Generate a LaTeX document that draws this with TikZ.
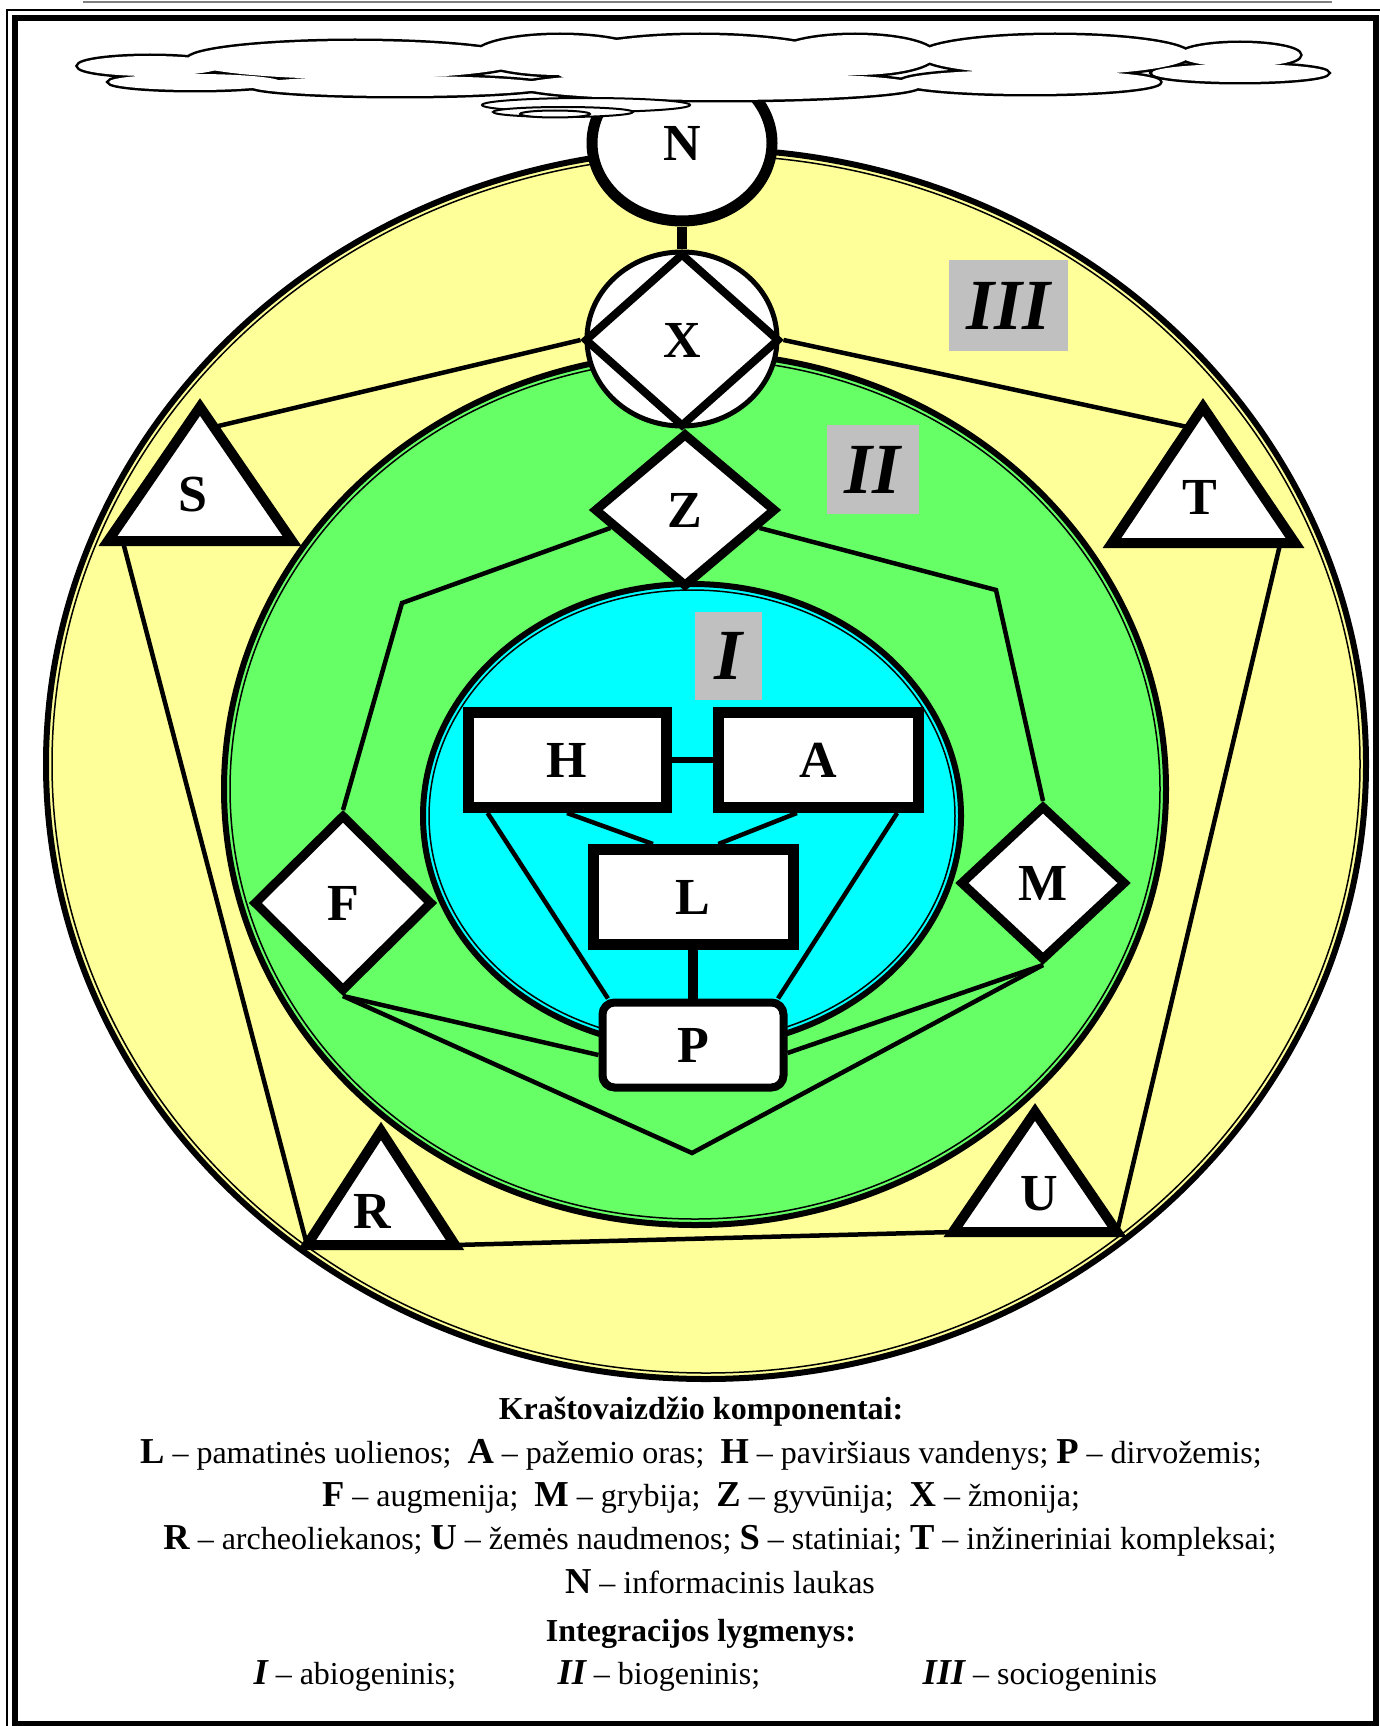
\documentclass[tikz,border=0pt]{standalone}
\usepackage{fontspec}
\setmainfont{Liberation Serif}
\usepackage{tikz}
\usetikzlibrary{calc,shapes.geometric}

\definecolor{socio}{RGB}{255,255,153}
\definecolor{bio}{RGB}{102,255,102}
\definecolor{abio}{RGB}{0,255,255}
\definecolor{levelgray}{RGB}{192,192,192}

\newcommand{\key}[1]{{\fontsize{36.5}{38}\selectfont\bfseries #1}}
\newcommand{\hdr}[1]{{\fontsize{32}{34}\selectfont\bfseries #1}}
\newcommand{\cloudlobes}{150/66/72/10, 195/82/86/8, 355/60/168/19, 560/55/85/20,
  700/65/150/30, 855/55/80/20, 1055/55/135/20, 1240/55/60/12, 1240/73/88/9,
  1030/82/130/12, 720/86/200/14, 400/86/150/10}

\begin{document}
\begin{tikzpicture}[
    x=1pt, y=-1pt,
    line width=4.5pt,
    every node/.style={font=\bfseries\fontsize{52}{56}\selectfont},
    comp/.style={draw, fill=white, line width=11pt, minimum height=95pt, inner sep=0pt},
    rhomb/.style={diamond, draw, fill=white, line width=9pt, inner sep=0pt},
    tri/.style={draw, fill=white, line width=10pt},
    level/.style={fill=levelgray, inner sep=0pt, font=\bfseries\itshape\fontsize{72}{76}\selectfont},
    legend/.style={anchor=base, font=\fontsize{32}{36}\selectfont}
  ]
  \useasboundingbox (0,0) rectangle (1379,1726);

  % page rule and frame
  \draw[line width=2pt, gray] (83,2) -- (1332,2);
  \draw[line width=1.2pt] (7,10) rectangle (1395,1740);
  \draw[line width=6.5pt] (15,18) rectangle (1376,1724);

  % integration levels
  \draw[fill=socio, line width=6pt] (706,764) ellipse [x radius=660, y radius=615];
  \draw[line width=1.5pt] (706,764) ellipse [x radius=654, y radius=609];
  \draw[fill=bio, line width=6pt] (695,789) ellipse [x radius=471, y radius=436];
  \draw[line width=1.5pt] (695,789) ellipse [x radius=465, y radius=430];
  \draw[fill=abio, line width=6pt] (692,816) ellipse [x radius=269, y radius=232];
  \draw[line width=1.5pt] (692,816) ellipse [x radius=263, y radius=226];

  \node[level, minimum width=119pt, minimum height=91pt] (lvlIII) at (1008.5,305.5) {III};
  \node[level, minimum width=92pt, minimum height=89pt] (lvlII) at (873,469.5) {II};
  \node[level, minimum width=67pt, minimum height=88pt] (lvlI) at (728.5,656) {I};

  % components
  \node[draw, ellipse, fill=white, line width=11pt, minimum width=180pt, minimum height=156pt] (N) at (682,143) {N};
  \node[draw, ellipse, fill=white, line width=5pt, minimum width=190pt, minimum height=174pt] (Xc) at (682,339) {};
  \node[rhomb, line width=8pt, minimum width=195pt, minimum height=174pt] (X) at (682,340) {X};
  \node[rhomb, minimum width=182pt, minimum height=154pt] (Z) at (685,510) {Z};
  \node[rhomb, minimum width=179pt, minimum height=177pt] (F) at (343,903) {F};
  \node[rhomb, minimum width=166pt, minimum height=155pt] (M) at (1043,883) {M};

  \node[comp, minimum width=198pt] (H) at (567,760) {H};
  \node[comp, minimum width=200pt] (A) at (818,760) {A};
  \node[comp, minimum width=200pt] (L) at (693,897) {L};
  \node[draw, fill=white, rounded corners=12pt, line width=8pt, minimum width=181pt,
    minimum height=85pt, inner sep=0pt] (P) at (693,1045) {P};

  \coordinate (S1) at (200,407); \coordinate (S2) at (108,541); \coordinate (S3) at (292,541);
  \coordinate (T1) at (1203,407); \coordinate (T2) at (1112,543); \coordinate (T3) at (1295,543);
  \coordinate (R1) at (381,1131); \coordinate (R2) at (307,1245); \coordinate (R3) at (455,1245);
  \coordinate (U1) at (1035,1112); \coordinate (U2) at (953,1232); \coordinate (U3) at (1117,1232);
  \draw[tri] (S1) -- (S2) -- (S3) -- cycle;
  \draw[tri] (T1) -- (T2) -- (T3) -- cycle;
  \draw[tri] (R1) -- (R2) -- (R3) -- cycle;
  \draw[tri] (U1) -- (U2) -- (U3) -- cycle;
  \node (S) at (193,495) {S};
  \node (T) at (1200,497) {T};
  \node (R) at (372,1211) {R};
  \node (U) at (1039,1194) {U};

  \coordinate (zf) at (402,603);
  \coordinate (zm) at (996,590);
  \coordinate (v) at (692,1153);

  % links
  \draw[line width=10pt] (N.south) -- (X.north);
  \draw (X.west) -- ($(S1)!0.15!(S3)$);
  \draw (X.east) -- ($(T1)!0.15!(T2)$);
  \draw ($(S2)!0.08!(S3)$) -- (R2);
  \draw ($(T3)!0.08!(T2)$) -- (U3);
  \draw (R3) -- (U2);
  \draw ($(Z.west)!0.22!(Z.south)$) -- (zf) -- (F.north);
  \draw ($(Z.east)!0.22!(Z.south)$) -- (zm) -- (M.north);
  \draw (F.south) -- ($(P.west)+(0,10)$);
  \draw (F.south) -- (v) -- (M.south);
  \draw (M.south) -- ($(P.east)+(0,8)$);
  \draw[line width=6pt] (H.east) -- (A.west);
  \draw (H.south) -- ($(L.north west)!0.31!(L.north east)$);
  \draw ($(A.south west)!0.4!(A.south east)$) -- ($(L.north west)!0.62!(L.north east)$);
  \draw ($(H.south west)!0.12!(H.south east)$) -- ($(P.north west)!0.05!(P.north east)$);
  \draw ($(A.south west)!0.875!(A.south east)$) -- ($(P.north west)!0.95!(P.north east)$);
  \draw[line width=10pt] (L.south) -- (P.north);

  % cloud
  \foreach \cx/\cy/\rx/\ry in \cloudlobes
    \draw[line width=5pt] (\cx,\cy) ellipse [x radius=\rx, y radius=\ry];
  \foreach \cx/\cy/\rx/\ry in \cloudlobes
    \fill[white] (\cx,\cy) ellipse [x radius=\rx, y radius=\ry];
  \draw[fill=white, line width=2pt] (586,105) ellipse [x radius=104, y radius=7];
  \draw[fill=white, line width=2pt] (563,112) ellipse [x radius=70, y radius=5];
  \draw[fill=white, line width=2pt] (555,114) ellipse [x radius=35, y radius=3.5];

  % legend
  \node[legend] (head1) at (701,1419) {\hdr{Kraštovaizdžio komponentai:}};
  \node[legend] (row1) at (701,1463) {\key{L} – pamatinės uolienos;\ \ \key{A} – pažemio oras;\ \ \key{H} – paviršiaus vandenys; \key{P} – dirvožemis;};
  \node[legend] (row2) at (701,1506) {\key{F} – augmenija;\ \ \key{M} – grybija;\ \ \key{Z} – gyvūnija;\ \ \key{X} – žmonija;};
  \node[legend] (row3) at (720,1549) {\key{R} – archeoliekanos; \key{U} – žemės naudmenos; \key{S} – statiniai; \key{T} – inžineriniai kompleksai;};
  \node[legend] (row4) at (720,1593) {\key{N} – informacinis laukas};
  \node[legend] (head2) at (701,1641) {\hdr{Integracijos lygmenys:}};
  \node[legend, anchor=base west] (lvl1) at (248,1684) {\key{\itshape I} – abiogeninis;};
  \node[legend, anchor=base west] (lvl2) at (552,1684) {\key{\itshape II} – biogeninis;};
  \node[legend, anchor=base west] (lvl3) at (917,1684) {\key{\itshape III} – sociogeninis};
\end{tikzpicture}
\end{document}
